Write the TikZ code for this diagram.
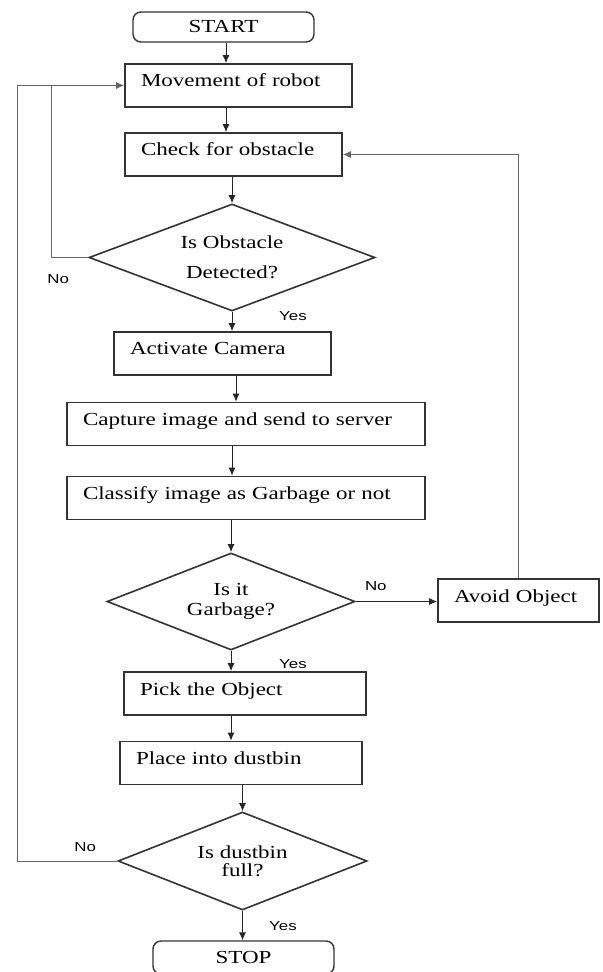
\documentclass[tikz,border=0pt]{standalone}
\usepackage{fontspec}
\setmainfont{Liberation Serif}[FakeStretch=1.25]
\newfontfamily\lblfont{Liberation Sans}[FakeStretch=1.3]
\usetikzlibrary{arrows.meta,shapes.geometric}

\tikzset{
  box/.style={draw=black!80, line width=0.8pt, rectangle, minimum height=21.5pt,
    inner xsep=8pt, align=left, text height=6.5pt, text depth=5pt, font=\fontsize{9.2}{11}\selectfont},
  term/.style={draw=black!80, line width=0.7pt, rectangle, rounded corners=4pt,
    font=\fontsize{9.2}{11}\selectfont},
  decision/.style={draw=black!80, line width=0.8pt, diamond, aspect=2.6, inner sep=0pt, align=center,
    font=\fontsize{9.2}{11}\selectfont},
  arr/.style={draw=black!85, line width=0.5pt, -{Latex[length=4pt,width=3.5pt]}},
  loop/.style={draw=black!60, line width=0.5pt},
  lbl/.style={font=\lblfont\fontsize{6.5}{7}\selectfont, inner sep=0pt}
}

\begin{document}
\begin{tikzpicture}[x=0.5pt, y=-0.5pt]
  \useasboundingbox (0,0) rectangle (602,972);

  % main column
  \node[term, minimum width=90.5pt, minimum height=15pt] (start) at (223.5,27) {START};
  \node[box, minimum width=113.5pt, text width=97.5pt] (move) at (238.5,85.5) {Movement of robot};
  \node[box, minimum width=108.5pt, text width=92.5pt] (check) at (233.5,154.5) {Check for obstacle};
  \node[decision, minimum width=143pt, minimum height=53.5pt] (obst) at (232,257.5) {Is Obstacle\\[4pt]Detected?};
  \node[box, minimum width=108.5pt, text width=92.5pt] (cam) at (222.5,353.5) {Activate Camera};
  \node[box, minimum width=179pt, text width=163pt] (capture) at (246,424) {Capture image and send to server};
  \node[box, minimum width=179pt, text width=163pt] (classify) at (246,498) {Classify image as Garbage or not};
  \node[decision, minimum width=124pt, minimum height=48.5pt] (garb) at (231,601.5) {Is it\\[-1pt]Garbage?};
  \node[box, minimum width=80.5pt, text width=64.5pt] (avoid) at (518.5,600.5) {Avoid Object};
  \node[box, minimum width=121pt, text width=105pt] (pick) at (245,693.5) {Pick the Object};
  \node[box, minimum width=121pt, text width=105pt] (place) at (241,763) {Place into dustbin};
  \node[decision, minimum width=124.5pt, minimum height=49pt] (full) at (242.5,861) {Is dustbin\\[-2pt]full?};
  \node[term, minimum width=90.5pt, minimum height=16.5pt] (stop) at (243.5,957.5) {STOP};

  % columns for the arrows and the return lines
  \coordinate (c1) at (226,0);
  \coordinate (c2) at (236,0);
  \coordinate (c3) at (232,0);
  \coordinate (lx1) at (51,0);
  \coordinate (lx2) at (17,0);

  \draw[arr] (start.south -| c1) -- (move.north -| c1);
  \draw[arr] (move.south -| c1) -- (check.north -| c1);
  \draw[arr] (check.south -| obst.north) -- (obst.north);
  \draw[arr] (obst.south) -- (cam.north -| obst.south);
  \draw[arr] (cam.south -| c2) -- (capture.north -| c2);
  \draw[arr] (capture.south -| c3) -- (classify.north -| c3);
  \draw[arr] (classify.south -| garb.north) -- (garb.north);
  \draw[arr] (garb.south) -- (pick.north -| garb.south);
  \draw[arr] (pick.south -| garb.south) -- (place.north -| garb.south);
  \draw[arr] (place.south -| full.north) -- (full.north);
  \draw[arr] (full.south) -- (stop.north -| full.south);
  \draw[arr] (garb.east) -- (avoid.west |- garb.east);

  % loops back
  \draw[arr, draw=black!60] (avoid.north) |- (check.east);
  \draw[arr, draw=black!60] (obst.west) -- (obst.west -| lx1) |- (move.west);
  \draw[loop] (full.west) -- (full.west -| lx2) |- (move.west -| lx1);

  % yes / no
  \node[lbl] (no1) at ([shift={(-30,22)}]obst.west) {No};
  \node[lbl] (yes1) at ([shift={(61,4)}]obst.south) {Yes};
  \node[lbl] (no2) at ([shift={(20,-15.5)}]garb.east) {No};
  \node[lbl] (yes2) at ([shift={(62,13)}]garb.south) {Yes};
  \node[lbl] (no3) at ([shift={(-32,-14)}]full.west) {No};
  \node[lbl] (yes3) at ([shift={(40.5,15)}]full.south) {Yes};
\end{tikzpicture}
\end{document}
